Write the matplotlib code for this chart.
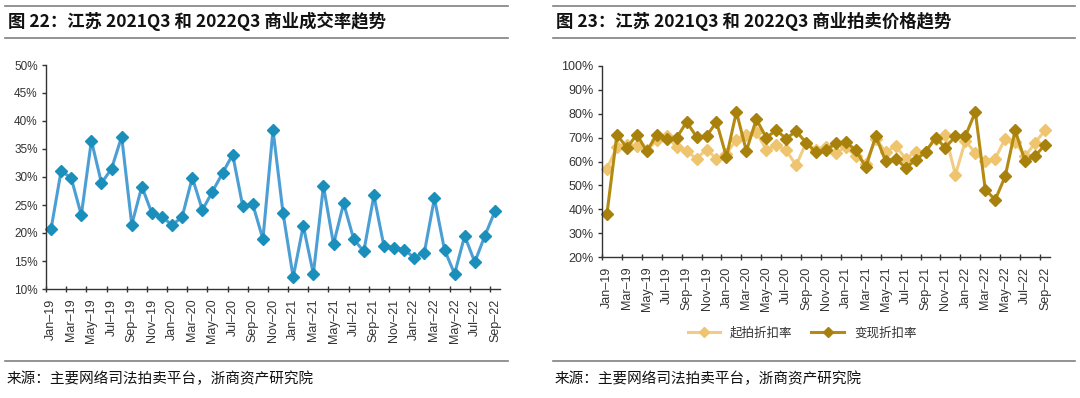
import numpy as np
import pandas as pd
import matplotlib
matplotlib.use('Agg')
import matplotlib.pyplot as plt
from matplotlib.lines import Line2D

plt.rcParams['font.family'] = ['Liberation Sans', 'Noto Sans CJK SC', 'DejaVu Sans']

months = pd.date_range('2019-01-01', '2022-09-01', freq='MS')
month_labels = [d.strftime('%b') + '–' + d.strftime('%y') for d in months]

# 商业成交率 (%)
deal_rate = [20.7, 31.1, 29.8, 23.2, 36.5, 28.9, 31.5, 37.2, 21.5, 28.3, 23.5, 22.9,
             21.4, 22.9, 29.9, 24.1, 27.4, 30.7, 34.0, 24.8, 25.1, 18.9, 38.4, 23.5,
             12.1, 21.3, 12.7, 28.4, 18.0, 25.3, 18.9, 16.7, 26.7, 17.6, 17.4, 17.0,
             15.6, 16.5, 26.2, 17.0, 12.7, 19.5, 14.8, 19.5, 23.9]

# 起拍折扣率 (%)
start_disc = [57.0, 66.1, 67.1, 66.5, 64.7, 68.9, 70.6, 66.1, 64.3, 61.2, 65.0, 61.2,
              63.3, 69.2, 71.3, 72.4, 65.0, 66.8, 64.7, 58.4, 67.8, 64.7, 66.1, 63.6,
              66.1, 62.2, 59.1, 69.6, 64.0, 66.5, 61.2, 64.0, 64.0, 69.6, 71.0, 54.5,
              68.6, 63.6, 60.1, 61.2, 69.6, 68.2, 62.2, 67.8, 73.1]

# 变现折扣率 (%)
real_disc = [38.2, 71.3, 65.7, 71.3, 64.3, 71.3, 69.3, 69.9, 76.6, 70.3, 70.6, 76.6,
             61.9, 80.8, 64.4, 77.7, 70.0, 73.1, 69.6, 72.7, 67.9, 63.8, 64.7, 67.8,
             68.2, 64.7, 57.7, 70.6, 60.1, 61.2, 57.4, 60.5, 64.0, 70.0, 65.8, 70.6,
             70.6, 80.8, 48.2, 44.0, 53.8, 73.1, 60.1, 62.2, 67.1]

W, H = 1080, 398
fig = plt.figure(figsize=(W / 100, H / 100), dpi=100)

def px_axes(x0, y0, x1, y1):
    return fig.add_axes([x0 / W, 1 - y1 / H, (x1 - x0) / W, (y1 - y0) / H])

def hline(x0, x1, y, lw=1.2):
    fig.add_artist(Line2D([x0 / W, x1 / W], [1 - y / H, 1 - y / H],
                          color='#808080', lw=lw, transform=fig.transFigure))

def style_axes(ax, fs_x, fs_y):
    x = np.arange(len(months))
    ax.set_xlim(-0.5, len(months) - 0.5)
    ax.set_xticks(x[::2])
    ax.set_xticklabels(month_labels[::2], rotation=90, fontsize=fs_x, color='#333333')
    ax.tick_params(axis='x', which='major', length=0, pad=7)
    ax.set_xticks(np.arange(-0.5, len(months), 2), minor=True)
    ax.tick_params(axis='x', which='minor', length=4, width=1, direction='inout', color='#333333')
    ax.tick_params(axis='y', length=3, width=1, color='#333333', labelsize=fs_y,
                   labelcolor='#333333', pad=3)
    for s in ['top', 'right']:
        ax.spines[s].set_visible(False)
    for s in ['left', 'bottom']:
        ax.spines[s].set_color('#333333')
        ax.spines[s].set_linewidth(1)
    ax.yaxis.set_major_formatter(plt.FuncFormatter(lambda v, p: f'{v:.0f}%'))

x = np.arange(len(months))

# left panel
ax1 = px_axes(46, 65, 500, 289)
ax1.plot(x, deal_rate, color='#4b9fd4', lw=2.2, marker='D', markersize=6.5,
         markerfacecolor='#1a8fbb', markeredgecolor='#1a8fbb', clip_on=False)
ax1.set_ylim(10, 50)
ax1.set_yticks(np.arange(10, 51, 5))
style_axes(ax1, 9, 8.5)

# right panel
ax2 = px_axes(602, 66, 1050, 257)
ax2.plot(x, start_disc, color='#f0cd82', lw=2.2, marker='D', markersize=6.5,
         markerfacecolor='#eec56e', markeredgecolor='#eec56e', label='起拍折扣率', clip_on=False)
ax2.plot(x, real_disc, color='#b48a12', lw=2.2, marker='D', markersize=6.5,
         markerfacecolor='#a8800c', markeredgecolor='#a8800c', label='变现折扣率', clip_on=False)
ax2.set_ylim(20, 100)
ax2.set_yticks(np.arange(20, 101, 10))
style_axes(ax2, 9, 9)
leg = ax2.legend(loc='center', bbox_to_anchor=(802 / W, 1 - 333 / H), bbox_transform=fig.transFigure,
                 ncol=2, frameon=False, handlelength=2.6, columnspacing=1.5,
                 prop={'family': ['Noto Sans CJK SC'], 'size': 9})
for t in leg.get_texts():
    t.set_color('#333333')
for h in leg.legend_handles:
    h.set_markersize(5)

# titles and source lines
cjk = ['Noto Sans CJK SC', 'DejaVu Sans']
hline(5, 508, 6)
hline(5, 508, 38)
hline(553, 1075, 6)
hline(553, 1075, 38)
fig.text(8 / W, 1 - 21 / H, '图 22：江苏 2021Q3 和 2022Q3 商业成交率趋势', fontsize=12.5,
         fontweight='bold', family=cjk, va='center', ha='left', color='#111111')
fig.text(556 / W, 1 - 21 / H, '图 23：江苏 2021Q3 和 2022Q3 商业拍卖价格趋势', fontsize=12.5,
         fontweight='bold', family=cjk, va='center', ha='left', color='#111111')
hline(5, 508, 361)
hline(553, 1075, 361)
fig.text(7 / W, 1 - 379 / H, '来源：主要网络司法拍卖平台，浙商资产研究院', fontsize=10.5,
         family=cjk, va='center', ha='left', color='#111111')
fig.text(555 / W, 1 - 379 / H, '来源：主要网络司法拍卖平台，浙商资产研究院', fontsize=10.5,
         family=cjk, va='center', ha='left', color='#111111')

fig.savefig('out.png', dpi=100)
